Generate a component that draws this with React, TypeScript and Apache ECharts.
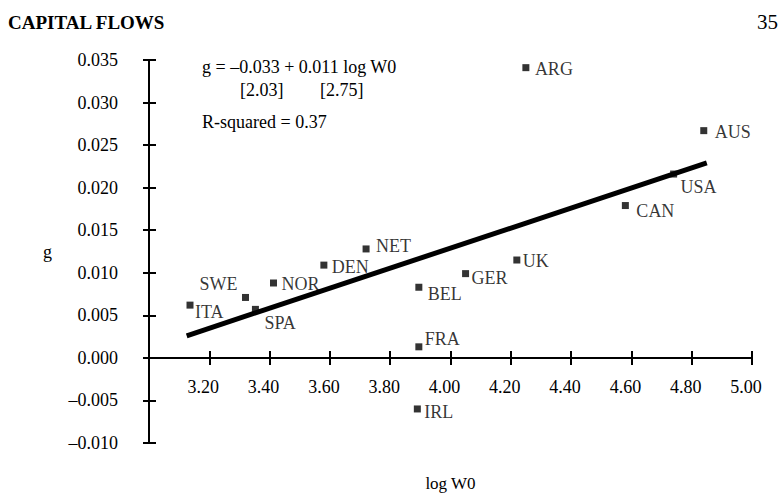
import React, { useEffect, useRef } from "react";
import * as echarts from "echarts";

const countries = ["ARG", "AUS", "USA", "CAN", "UK", "GER", "BEL", "FRA", "IRL", "NET", "DEN", "NOR", "SWE", "SPA", "ITA"];
const logW0 = [4.25, 4.84, 4.74, 4.58, 4.22, 4.05, 3.895, 3.895, 3.89, 3.72, 3.58, 3.413, 3.32, 3.353, 3.136];
const gValues = [0.0341, 0.0267, 0.0216, 0.0179, 0.0115, 0.0099, 0.0083, 0.0013, -0.006, 0.0128, 0.0109, 0.0088, 0.0071, 0.0057, 0.0062];
const regressionLine = [
  [3.125, 0.0026],
  [4.85, 0.0229],
];
const equationLines = ["g = \u20130.033 + 0.011 log W0", "[2.03]", "[2.75]", "R-squared = 0.37"];

// label placement (px offsets from marker centre): [dx, dy, align]
const labelPlacement: Record<string, [number, number, string]> = {
  ARG: [9, 1, "left"],
  AUS: [11, 1, "left"],
  USA: [7, 13, "left"],
  CAN: [11, 5, "left"],
  UK: [6, 1, "left"],
  GER: [6, 4, "left"],
  BEL: [9, 7, "left"],
  FRA: [6, -8, "left"],
  IRL: [7, 3, "left"],
  NET: [10, -3, "left"],
  DEN: [8, 2, "left"],
  NOR: [8, 1, "left"],
  SWE: [-8, -13, "right"],
  SPA: [9, 14, "left"],
  ITA: [5, 7, "left"],
};

const FONT = "'Liberation Serif', 'Times New Roman', serif";
const INK = "#000";
const SYM = 7;
const X_MIN = 3.0;
const X_MAX = 5.0;
const X_STEP = 0.2;
const Y_MIN = -0.01;
const Y_MAX = 0.035;
const Y_STEP = 0.005;

const GRID_TOP = 60;
const GRID_BOTTOM = 60;
const CHART_H = 503;

export default function App() {
  const ref = useRef<HTMLDivElement>(null);
  useEffect(() => {
    if (!ref.current) return;
    const chart = echarts.init(ref.current, null, { renderer: "svg" });
    const points = countries.map((c, i) => {
      const [dx, dy, align] = labelPlacement[c];
      return {
        name: c,
        value: [logW0[i], gValues[i]],
        label: {
          show: true,
          formatter: c,
          position: [dx + SYM / 2, dy + SYM / 2],
          align,
          verticalAlign: "middle",
          color: INK,
          fontFamily: FONT,
          fontSize: 18,
        },
      };
    });
    // distance from grid bottom up to the g = 0 line (x axis crosses there)
    const gridH = CHART_H - GRID_TOP - GRID_BOTTOM;
    const zeroOffset = -((0 - Y_MIN) / (Y_MAX - Y_MIN)) * gridH;

    const axisLineStyle = { color: INK, width: 2 };
    const gridBox = { left: 149, right: 32, top: GRID_TOP, bottom: GRID_BOTTOM, containLabel: false, outerBoundsMode: "none" };
    chart.setOption({
      animation: false,
      backgroundColor: "#fff",
      textStyle: { fontFamily: FONT },
      title: {
        text: "CAPITAL FLOWS",
        left: 8,
        top: 13,
        padding: 0,
        textStyle: { fontFamily: FONT, fontWeight: "bold", fontSize: 19, color: INK },
      },
      graphic: [
        { type: "text", right: 6, top: 11, style: { text: "35", font: `21px ${FONT}`, fill: INK } },
        { type: "text", left: 202, top: 58, style: { text: equationLines[0], font: `18px ${FONT}`, fill: INK } },
        { type: "text", left: 240, top: 81, style: { text: equationLines[1], font: `18px ${FONT}`, fill: INK } },
        { type: "text", left: 320, top: 81, style: { text: equationLines[2], font: `18px ${FONT}`, fill: INK } },
        { type: "text", left: 202, top: 113, style: { text: equationLines[3], font: `18px ${FONT}`, fill: INK } },
      ],
      grid: [gridBox, { ...gridBox }],
      xAxis: [
        {
          type: "value",
          gridIndex: 0,
          min: X_MIN,
          max: X_MAX,
          interval: X_STEP,
          position: "bottom",
          offset: zeroOffset,
          name: "log W0",
          nameLocation: "middle",
          nameGap: 117,
          nameTextStyle: { fontFamily: FONT, fontSize: 17, color: INK },
          axisLine: { show: true, onZero: false, lineStyle: axisLineStyle },
          axisTick: { show: true, length: 7, lineStyle: axisLineStyle },
          axisLabel: {
            fontFamily: FONT,
            fontSize: 18,
            color: INK,
            margin: 20,
            padding: [0, 12, 0, 0],
            formatter: (v: number) => (v < 3.1 ? "" : v.toFixed(2)),
          },
          splitLine: { show: false },
        },
        {
          type: "value",
          gridIndex: 1,
          min: X_MIN,
          max: X_MAX,
          interval: X_STEP,
          position: "bottom",
          offset: zeroOffset,
          axisLine: { show: false, onZero: false },
          axisTick: { show: true, inside: true, length: 7, lineStyle: axisLineStyle },
          axisLabel: { show: false },
          splitLine: { show: false },
        },
      ],
      yAxis: [
        {
          type: "value",
          gridIndex: 0,
          min: Y_MIN,
          max: Y_MAX,
          interval: Y_STEP,
          name: "g",
          nameLocation: "middle",
          nameRotate: 0,
          nameGap: 97,
          nameTextStyle: { fontFamily: FONT, fontSize: 18, color: INK, padding: [8, 0, 0, 0] },
          axisLine: { show: true, onZero: false, lineStyle: axisLineStyle },
          axisTick: { show: true, length: 6, lineStyle: axisLineStyle },
          axisLabel: {
            fontFamily: FONT,
            fontSize: 18,
            color: INK,
            margin: 31,
            formatter: (v: number) => (v < 0 ? "\u2013" + Math.abs(v).toFixed(3) : v.toFixed(3)),
          },
          splitLine: { show: false },
        },
        {
          type: "value",
          gridIndex: 1,
          min: Y_MIN,
          max: Y_MAX,
          interval: Y_STEP,
          axisLine: { show: false, onZero: false },
          axisTick: { show: true, inside: true, length: 7, lineStyle: axisLineStyle },
          axisLabel: { show: false },
          splitLine: { show: false },
        },
      ],
      series: [
        {
          type: "line",
          xAxisIndex: 0,
          yAxisIndex: 0,
          data: regressionLine,
          symbol: "none",
          lineStyle: { color: INK, width: 5 },
          z: 2,
        },
        {
          type: "scatter",
          xAxisIndex: 0,
          yAxisIndex: 0,
          symbol: "rect",
          symbolSize: SYM,
          itemStyle: { color: INK },
          data: points,
          z: 3,
        },
      ],
    });
    return () => chart.dispose();
  }, []);
  return <div ref={ref} style={{ width: 784, height: 503, position: "absolute", left: 0, top: 0 }} />;
}
